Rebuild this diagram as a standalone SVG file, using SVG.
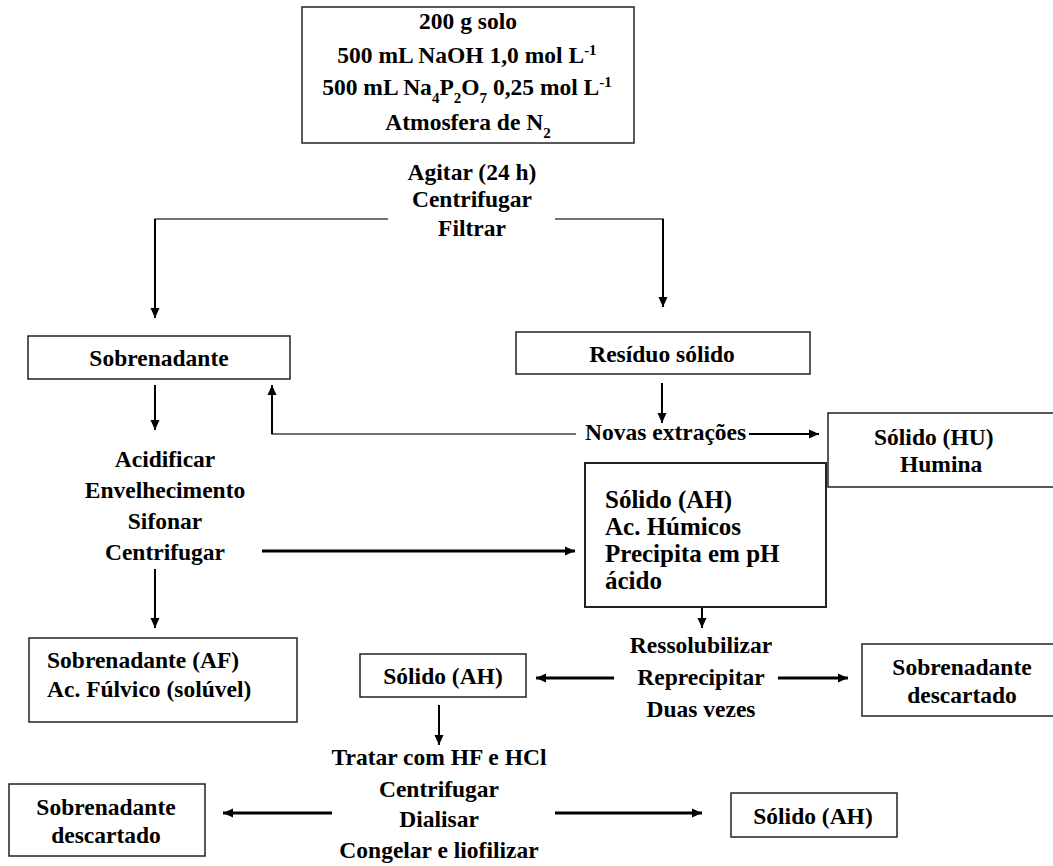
<svg xmlns="http://www.w3.org/2000/svg" width="1053" height="866" viewBox="0 0 1053 866">
<defs>
<marker id="ah" markerUnits="userSpaceOnUse" markerWidth="10" markerHeight="10" refX="10" refY="5" orient="auto"><path d="M0,0.5 L10,5 L0,9.5 z" fill="#000"/></marker>
<style>
.t{font-family:"Liberation Serif","Times New Roman",serif;font-weight:bold;font-size:23.5px;fill:#000}
.c{text-anchor:middle}
.big{font-size:25px}
.box{fill:#fff;stroke:#222;stroke-width:1.5}
.thin{fill:none;stroke:#444;stroke-width:1.3}
.a2{fill:none;stroke:#000;stroke-width:2;marker-end:url(#ah)}
.a3{fill:none;stroke:#000;stroke-width:3;marker-end:url(#ah)}
.s{font-size:15px}
</style>
</defs>
<rect width="1053" height="866" fill="#fff"/>

<g id="connectors">
<polyline class="thin" points="388,219 155,219 155,240"/>
<line class="a2" x1="155" y1="219" x2="155" y2="318"/>
<polyline class="thin" points="555,219 663,219 663,240"/>
<line class="a2" x1="663" y1="219" x2="663" y2="307"/>
<line class="a2" x1="155" y1="385" x2="155" y2="430"/>
<polyline class="thin" points="576,434 272,434 272,420"/>
<line class="a2" x1="272" y1="434" x2="272" y2="385"/>
<line class="a2" x1="662" y1="383" x2="662" y2="423"/>
<line class="a2" x1="749" y1="434" x2="819" y2="434"/>
<line class="a3" x1="262" y1="551" x2="575" y2="551"/>
<line class="a2" x1="155" y1="569" x2="155" y2="628"/>
<line class="a2" x1="702" y1="607" x2="702" y2="628"/>
<line class="a3" x1="614" y1="678" x2="536" y2="678"/>
<line class="a3" x1="778" y1="678" x2="848" y2="678"/>
<line class="a2" x1="439" y1="705" x2="439" y2="745"/>
<line class="a3" x1="332" y1="813" x2="223" y2="813"/>
<line class="a3" x1="555" y1="813" x2="702" y2="813"/>
</g>

<g id="n-inicio">
<rect class="box" x="302" y="7" width="332" height="136"/>
<text class="t c" x="468" y="29">200 g solo</text>
<text class="t c" x="467" y="63">500 mL NaOH 1,0 mol L<tspan class="s" baseline-shift="super">-1</tspan></text>
<text class="t c" x="467" y="95">500 mL Na<tspan class="s" baseline-shift="sub">4</tspan>P<tspan class="s" baseline-shift="sub">2</tspan>O<tspan class="s" baseline-shift="sub">7</tspan> 0,25 mol L<tspan class="s" baseline-shift="super">-1</tspan></text>
<text class="t c" x="468" y="130">Atmosfera de N<tspan class="s" baseline-shift="sub">2</tspan></text>
</g>

<g id="n-agitar">
<text class="t c" x="472" y="180">Agitar (24 h)</text>
<text class="t c" x="472" y="207">Centrifugar</text>
<text class="t c" x="472" y="236">Filtrar</text>
</g>

<g id="n-sobrenadante">
<rect class="box" x="28" y="336" width="262" height="43"/>
<text class="t c" x="159" y="366">Sobrenadante</text>
</g>

<g id="n-residuo">
<rect class="box" x="516" y="332" width="294" height="42"/>
<text class="t c" x="662" y="362">Resíduo sólido</text>
</g>

<g id="n-novas">
<text class="t" x="585" y="440">Novas extrações</text>
</g>

<g id="n-humina">
<rect class="box" x="828" y="413" width="240" height="74"/>
<text class="t" x="874" y="445">Sólido (HU)</text>
<text class="t" x="900" y="472">Humina</text>
</g>

<g id="n-acidificar">
<text class="t c" x="165" y="467">Acidificar</text>
<text class="t c" x="165" y="498">Envelhecimento</text>
<text class="t c" x="165" y="529">Sifonar</text>
<text class="t c" x="165" y="560">Centrifugar</text>
</g>

<g id="n-ah">
<rect class="box" x="585" y="463" width="241" height="144" style="stroke-width:2"/>
<text class="t big" x="605" y="508">Sólido (AH)</text>
<text class="t big" x="605" y="535">Ac. Húmicos</text>
<text class="t big" x="605" y="562">Precipita em pH</text>
<text class="t big" x="605" y="589">ácido</text>
</g>

<g id="n-af">
<rect class="box" x="29" y="638" width="268" height="84"/>
<text class="t" x="47" y="668">Sobrenadante (AF)</text>
<text class="t" x="47" y="697">Ac. Fúlvico (solúvel)</text>
</g>

<g id="n-ressolubilizar">
<text class="t c" x="701" y="653">Ressolubilizar</text>
<text class="t c" x="701" y="685">Reprecipitar</text>
<text class="t c" x="701" y="717">Duas vezes</text>
</g>

<g id="n-solido-ah-1">
<rect class="box" x="360" y="654" width="166" height="43"/>
<text class="t c" x="443" y="684">Sólido (AH)</text>
</g>

<g id="n-descartado-1">
<rect class="box" x="862" y="644" width="210" height="72"/>
<text class="t c" x="962" y="675">Sobrenadante</text>
<text class="t c" x="962" y="703">descartado</text>
</g>

<g id="n-tratar">
<text class="t c" x="439" y="765">Tratar com HF e HCl</text>
<text class="t c" x="439" y="797">Centrifugar</text>
<text class="t c" x="439" y="827">Dialisar</text>
<text class="t c" x="439" y="858">Congelar e liofilizar</text>
</g>

<g id="n-descartado-2">
<rect class="box" x="9" y="784" width="196" height="72"/>
<text class="t c" x="106" y="815">Sobrenadante</text>
<text class="t c" x="106" y="843">descartado</text>
</g>

<g id="n-solido-ah-2">
<rect class="box" x="731" y="793" width="166" height="44"/>
<text class="t c" x="813" y="824">Sólido (AH)</text>
</g>
</svg>
